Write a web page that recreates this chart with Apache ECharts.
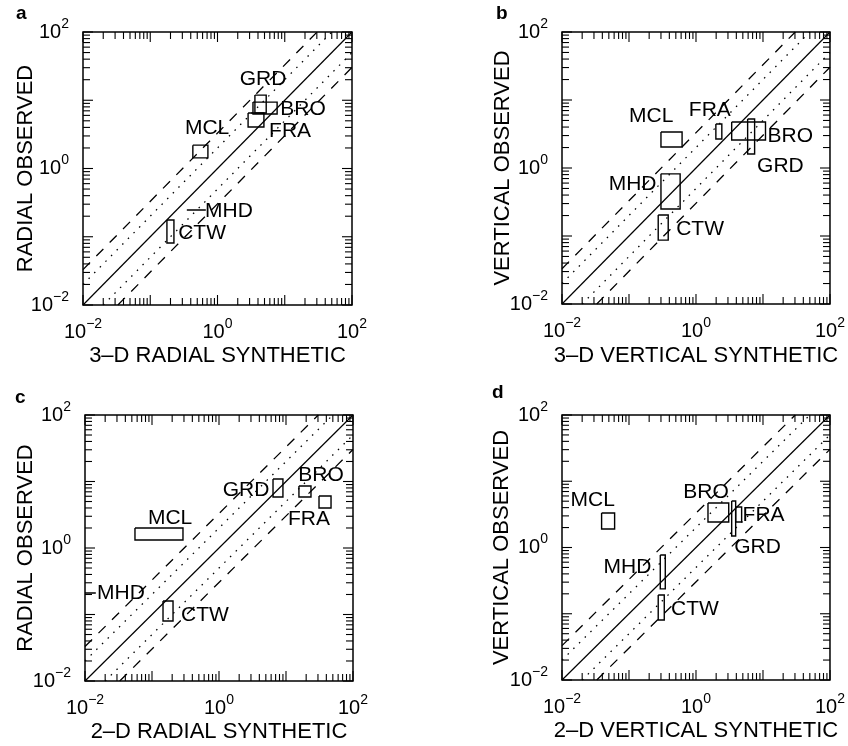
<!DOCTYPE html>
<html><head><meta charset="utf-8">
<script src="https://cdn.jsdelivr.net/npm/echarts@6/dist/echarts.min.js"></script>
<style>html,body{margin:0;padding:0;background:#fff}#c{width:848px;height:746px}</style>
</head><body><div id="c"></div>
<script>
// ---------- data ----------
const stations = ['GRD', 'BRO', 'FRA', 'MCL', 'MHD', 'CTW'];

// panel a: 3-D radial
const aXLo = [3.6, 3.37, 2.85, 0.43, 0.35, 0.177];
const aXHi = [5.3, 7.7, 4.9, 0.72, 0.67, 0.225];
const aYLo = [6.5, 6.3, 4.06, 1.43, 0.246, 0.081];
const aYHi = [11.9, 9.4, 6.5, 2.2, 0.246, 0.176];
const aLabX = [4.75, 18.7, 12.0, 0.70, 1.48, 0.589];
const aLabY = [20.5, 7.45, 3.54, 3.92, 0.238, 0.1135];

// panel b: 3-D vertical
const bXLo = [5.9, 3.41, 1.98, 0.30, 0.30, 0.273];
const bXHi = [7.5, 10.9, 2.43, 0.62, 0.58, 0.385];
const bYLo = [1.61, 2.58, 2.67, 2.04, 0.249, 0.087];
const bYHi = [5.26, 4.75, 4.44, 3.38, 0.82, 0.204];
const bLabX = [18.2, 25.5, 1.61, 0.215, 0.113, 1.15];
const bLabY = [1.07, 2.96, 7.13, 5.82, 0.58, 0.127];

// panel c: 2-D radial
const cXLo = [6.4, 15.6, 31.1, 0.0557, 0.008, 0.146];
const cXHi = [9.0, 23.6, 47, 0.29, 0.0145, 0.206];
const cYLo = [5.85, 5.85, 4.0, 1.32, 0.21, 0.080];
const cYHi = [10.9, 8.55, 6.05, 2.0, 0.21, 0.16];
const cLabX = [2.53, 33.3, 22, 0.186, 0.0344, 0.618];
const cLabY = [7.45, 12.5, 2.73, 2.82, 0.21, 0.098];

// panel d: 2-D vertical
const dXLo = [3.41, 1.51, 3.91, 0.039, 0.293, 0.273];
const dXHi = [3.91, 3.08, 4.8, 0.061, 0.348, 0.336];
const dYLo = [1.49, 2.43, 2.43, 1.9, 0.237, 0.0805];
const dYHi = [5.04, 4.7, 4.08, 3.32, 0.77, 0.192];
const dLabX = [8.3, 1.41, 10.2, 0.0288, 0.095, 0.966];
const dLabY = [1.02, 6.89, 3.1, 5.21, 0.508, 0.118];

const xTitles = ['3–D RADIAL SYNTHETIC', '3–D VERTICAL SYNTHETIC', '2–D RADIAL SYNTHETIC', '2–D VERTICAL SYNTHETIC'];
const yTitles = ['RADIAL OBSERVED', 'VERTICAL OBSERVED', 'RADIAL OBSERVED', 'VERTICAL OBSERVED'];
const panelLetters = ['a', 'b', 'c', 'd'];

const axisMin = 0.01, axisMax = 100;
const majorTicks = [0.01, 0.1, 1, 10, 100];
const minorTicks = [0.02, 0.03, 0.04, 0.05, 0.06, 0.07, 0.08, 0.09,
  0.2, 0.3, 0.4, 0.5, 0.6, 0.7, 0.8, 0.9,
  2, 3, 4, 5, 6, 7, 8, 9,
  20, 30, 40, 50, 60, 70, 80, 90];
const dottedFactor = 2;
const dashedFactor = 3.3;

// ---------- layout ----------
const FONT = 'Liberation Sans, Arial, Helvetica, sans-serif';
const grids = [
  {left: 83, top: 32, width: 269, height: 273},
  {left: 562, top: 32, width: 270, height: 272},
  {left: 85, top: 415, width: 268, height: 266},
  {left: 562, top: 415, width: 270, height: 265}
];
const yNameGaps = [46, 48, 48, 49];
const xNameGaps = [40, 41, 40, 40];
const letterPos = [[22, 15], [502, 15], [21, 399], [498, 394]];
const panels = [
  [aXLo, aXHi, aYLo, aYHi, aLabX, aLabY],
  [bXLo, bXHi, bYLo, bYHi, bLabX, bLabY],
  [cXLo, cXHi, cYLo, cYHi, cLabX, cLabY],
  [dXLo, dXHi, dYLo, dYHi, dLabX, dLabY]
];

function expLabel(v) {
  const e = Math.round(Math.log10(v));
  if (e % 2 !== 0) return '';
  return '{b|10}{s|' + (e < 0 ? '−' + (-e) : e) + '}';
}
const labelRich = {
  b: {fontSize: 20, fontFamily: FONT, color: '#000', lineHeight: 30},
  s: {fontSize: 14, fontFamily: FONT, color: '#000', lineHeight: 12, verticalAlign: 'top'}
};

const option = {
  backgroundColor: '#fff',
  animation: false,
  grid: [], xAxis: [], yAxis: [], series: [],
  graphic: panelLetters.map((t, i) => ({
    type: 'text', left: letterPos[i][0] - 6, top: letterPos[i][1] - 11,
    style: {text: t, font: 'bold 19px ' + FONT, fill: '#000'}
  }))
};

const tickValues = majorTicks.concat(minorTicks);
const tickData = tickValues.map(v => [v, v]);
// side: 0 bottom, 1 top, 2 left, 3 right
function tickSeries(i, side) {
  return {
    type: 'custom', xAxisIndex: i, yAxisIndex: i, clip: false, silent: true,
    encode: {x: 0, y: 1},
    data: tickData.map(d => d.slice()),
    renderItem(params, api) {
      const v = api.value(0);
      const L = params.dataIndex < majorTicks.length ? 10 : 7;
      let p, q;
      if (side === 0) { p = api.coord([v, axisMin]); q = [p[0], p[1] - L]; }
      else if (side === 1) { p = api.coord([v, axisMax]); q = [p[0], p[1] + L]; }
      else if (side === 2) { p = api.coord([axisMin, v]); q = [p[0] + L, p[1]]; }
      else { p = api.coord([axisMax, v]); q = [p[0] - L, p[1]]; }
      return {type: 'polyline', shape: {points: [[p[0], p[1]], q]},
        style: {stroke: '#000', lineWidth: 1.1, fill: 'none'}};
    }
  };
}

panels.forEach((p, i) => {
  const [xLo, xHi, yLo, yHi, labX, labY] = p;
  option.grid.push(Object.assign({show: true, borderColor: '#000', borderWidth: 1.5, backgroundColor: 'transparent'}, grids[i]));
  option.xAxis.push({
    type: 'log', logBase: 10, gridIndex: i, min: axisMin, max: axisMax, splitNumber: 4,
    axisLine: {show: false}, axisTick: {show: false}, splitLine: {show: false},
    axisLabel: {formatter: expLabel, rich: labelRich, margin: 12},
    name: xTitles[i], nameLocation: 'middle', nameGap: xNameGaps[i], nameMoveOverlap: false,
    nameTextStyle: {fontSize: 22, fontFamily: FONT, color: '#000'}
  });
  option.yAxis.push({
    type: 'log', logBase: 10, gridIndex: i, min: axisMin, max: axisMax, splitNumber: 4,
    axisLine: {show: false}, axisTick: {show: false}, splitLine: {show: false},
    axisLabel: {formatter: expLabel, rich: labelRich, margin: 14},
    name: yTitles[i], nameLocation: 'middle', nameGap: yNameGaps[i], nameMoveOverlap: false,
    nameTextStyle: {fontSize: 22, fontFamily: FONT, color: '#000'}
  });
  for (let s = 0; s < 4; s++) option.series.push(tickSeries(i, s));
  // reference lines
  const refLine = (data, type) => ({
    type: 'line', xAxisIndex: i, yAxisIndex: i, data, symbol: 'none', silent: true,
    lineStyle: {color: '#000', width: type === 'solid' ? 1.2 : 1.3, type}
  });
  option.series.push(refLine([[axisMin, axisMin], [axisMax, axisMax]], 'solid'));
  option.series.push(refLine([[axisMin, axisMin * dottedFactor], [axisMax / dottedFactor, axisMax]], [1.5, 6.5]));
  option.series.push(refLine([[axisMin * dottedFactor, axisMin], [axisMax, axisMax / dottedFactor]], [1.5, 6.5]));
  option.series.push(refLine([[axisMin, axisMin * dashedFactor], [axisMax / dashedFactor, axisMax]], [10, 9]));
  option.series.push(refLine([[axisMin * dashedFactor, axisMin], [axisMax, axisMax / dashedFactor]], [10, 9]));
  // boxes
  option.series.push({
    type: 'custom', xAxisIndex: i, yAxisIndex: i, clip: true, silent: true,
    data: stations.map((s, k) => [xLo[k], yLo[k], xHi[k], yHi[k]]),
    encode: {x: [0, 2], y: [1, 3]},
    renderItem(params, api) {
      const p1 = api.coord([api.value(0), api.value(3)]);
      const p2 = api.coord([api.value(2), api.value(1)]);
      return {type: 'polyline', shape: {points: [[p1[0], p1[1]], [p2[0], p1[1]], [p2[0], p2[1]], [p1[0], p2[1]], [p1[0], p1[1]]]},
        style: {stroke: '#000', lineWidth: 1.4, fill: 'none'}};
    }
  });
  // station labels
  option.series.push({
    type: 'custom', xAxisIndex: i, yAxisIndex: i, clip: false, silent: true,
    data: stations.map((s, k) => [labX[k], labY[k], s]),
    renderItem(params, api) {
      const c = api.coord([api.value(0), api.value(1)]);
      return {type: 'text', x: c[0], y: c[1],
        style: {text: stations[params.dataIndex], font: '21px ' + FONT, fill: '#000', align: 'center', verticalAlign: 'middle'}};
    }
  });
});

const chart = echarts.init(document.getElementById('c'), null, {renderer: 'canvas'});
chart.setOption(option);
</script></body></html>
